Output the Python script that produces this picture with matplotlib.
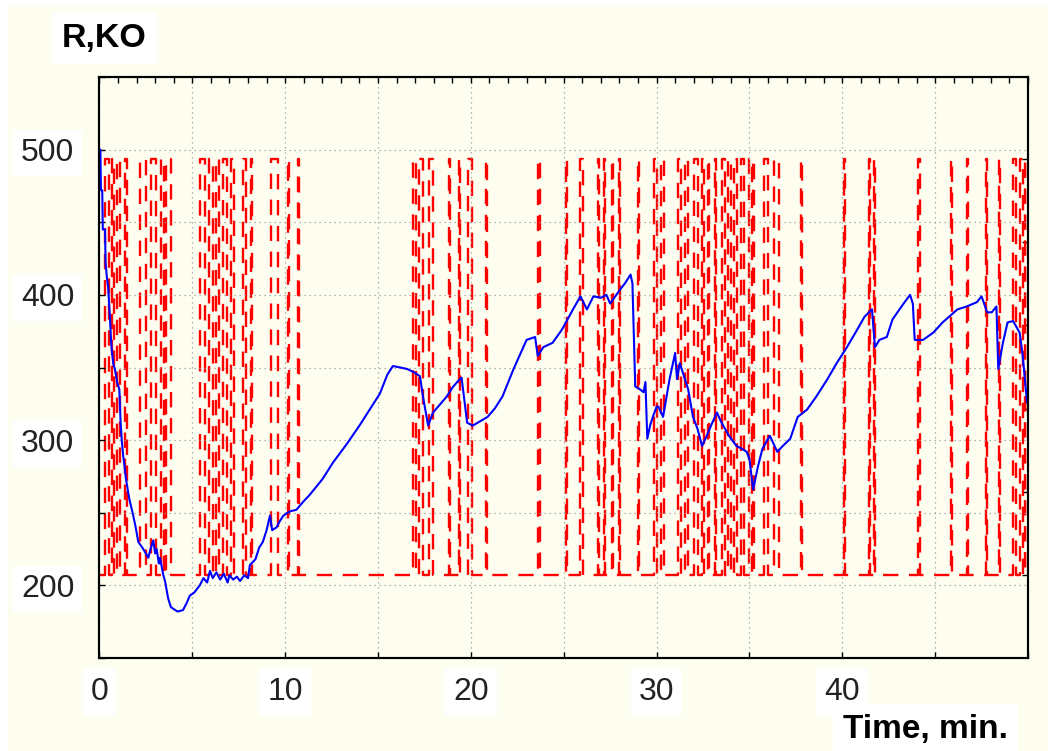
import numpy as np
import matplotlib.pyplot as plt
from matplotlib.patches import Rectangle

plt.rcParams['font.family'] = ['Liberation Sans', 'DejaVu Sans']

# resistance trace, R (kOhm) vs time (min)
t_min = [0.0, 0.05, 0.08, 0.15, 0.18, 0.3, 0.33, 0.4, 0.47, 0.57, 0.62, 0.66, 0.75, 0.83,
         0.95, 1.07, 1.14, 1.2, 1.28, 1.35, 1.43, 1.6, 1.82, 1.95, 2.09, 2.2, 2.36, 2.5,
         2.63, 2.75, 2.9, 3.0, 3.08, 3.2, 3.26, 3.44, 3.53, 3.7, 3.85, 3.97, 4.2, 4.5,
         4.7, 4.87, 5.1, 5.4, 5.6, 5.8, 5.95, 6.1, 6.3, 6.5, 6.7, 6.9, 7.0, 7.2, 7.4,
         7.57, 7.8, 8.0, 8.1, 8.4, 8.6, 8.8, 9.0, 9.18, 9.3, 9.54, 9.7, 9.9, 10.26,
         10.6, 11.0, 11.3, 12.0, 12.6, 13.3, 14.0, 14.6, 15.1, 15.5, 15.8, 16.2, 16.56,
         16.9, 17.26, 17.42, 17.7, 17.96, 18.3, 18.7, 19.0, 19.26, 19.5, 19.8, 20.1,
         20.5, 20.9, 21.3, 21.7, 22.3, 23.0, 23.46, 23.6, 23.9, 24.4, 24.9, 25.5, 25.9,
         26.25, 26.6, 27.0, 27.3, 27.5, 28.0, 28.3, 28.6, 28.7, 28.85, 29.1, 29.3, 29.4,
         29.5, 29.65, 29.8, 30.0, 30.1, 30.35, 30.7, 31.0, 31.1, 31.25, 31.4, 31.7,
         31.96, 32.2, 32.45, 32.7, 33.0, 33.25, 33.5, 33.9, 34.3, 34.6, 34.85, 35.0,
         35.2, 35.46, 35.7, 36.1, 36.5, 36.8, 37.2, 37.6, 38.1, 38.6, 39.2, 39.7, 40.25,
         40.8, 41.2, 41.6, 41.76, 42.0, 42.4, 42.7, 43.3, 43.65, 43.8, 43.9, 44.35,
         44.9, 45.4, 46.2, 46.7, 47.25, 47.5, 47.8, 48.05, 48.3, 48.4, 48.65, 48.9,
         49.2, 49.55, 49.7, 49.95]
r_ko = [500, 500, 472, 472, 445, 445, 422, 412, 405, 383, 370, 362, 352, 349,
        340, 335, 312, 300, 289, 282, 273, 260, 248, 240, 230, 228, 225, 222,
        219, 225, 231, 222, 225, 215, 219, 207, 203, 191, 185, 184, 182, 183,
        188, 193, 195, 200, 205, 202, 210, 205, 209, 204, 208, 202, 207, 204, 206,
        203, 207, 205, 214, 218, 226, 230, 238, 248, 238, 240, 244, 248, 251,
        252, 258, 262, 273, 285, 297, 310, 322, 332, 345, 351, 350, 349,
        347, 344, 330, 310, 319, 324, 330, 336, 340, 343, 312, 310,
        313, 316, 322, 330, 349, 369, 371, 358, 364, 367, 376, 390, 399,
        390, 399, 398, 400, 394, 403, 408, 414, 408, 337, 335, 333, 340,
        301, 310, 316, 323, 323, 316, 342, 360, 342, 353, 347, 335,
        316, 308, 296, 303, 312, 319, 312, 303, 296, 294, 292, 287,
        266, 282, 294, 303, 292, 296, 301, 316, 321, 330, 342, 353, 364,
        376, 385, 390, 364, 369, 371, 383, 394, 400, 394, 369, 369,
        374, 381, 390, 392, 395, 399, 388, 388, 392, 349, 367, 381,
        382, 374, 360, 326]

# valve state pulses (on/off times, min)
pulse_on = [0.32, 0.65, 0.97, 1.35, 2.21, 2.75, 3.29, 3.61, 5.44, 5.88, 6.25, 6.63, 7.06,
            7.71, 8.14, 9.22, 10.13, 10.67, 16.87, 17.2, 17.74, 18.81, 19.35, 19.84,
            20.81, 23.61, 25.12, 25.88, 26.85, 27.17, 27.6, 27.98, 29.0, 29.87, 30.25,
            31.16, 31.54, 32.02, 32.45, 32.78, 33.15, 33.53, 33.85, 34.18, 34.56, 35.0,
            35.2, 35.8, 36.33, 37.79, 40.11, 41.46, 41.73, 44.1, 45.88, 46.74, 47.76,
            48.46, 49.2, 49.55, 49.82]
pulse_off = [0.49, 0.81, 1.13, 1.51, 2.48, 3.02, 3.45, 3.83, 5.66, 6.09, 6.42, 6.85, 7.22,
             7.87, 8.2, 9.6, 10.18, 10.72, 17.03, 17.41, 17.95, 18.86, 19.4, 20.05,
             20.86, 23.72, 25.17, 26.04, 26.9, 27.22, 27.65, 28.03, 29.05, 30.0, 30.4,
             31.32, 31.7, 32.24, 32.56, 32.83, 33.2, 33.69, 34.02, 34.34, 34.72, 35.15,
             35.25, 36.0, 36.6, 37.84, 40.16, 41.51, 41.78, 44.2, 45.93, 46.79, 47.81,
             48.51, 49.38, 49.72, 50.0]

x_labels = ['0', '', '10', '', '20', '', '30', '', '40', '', '']
y_labels = ['', '200', '', '300', '', '400', '', '500', '']

# step signal built from the pulses
step_t = [0.0]
step_v = [0]
for on, off in zip(pulse_on, pulse_off):
    step_t += [on, off]
    step_v += [1, 0]
step_t.append(50.0)
step_v.append(0)

fig = plt.figure(figsize=(10.48, 7.51), dpi=100, facecolor='white')
fig.patches.append(Rectangle((8 / 1048, 0), 1, 1 - 5 / 751, transform=fig.transFigure,
                             facecolor='#FEFEF0', edgecolor='none', zorder=-10))

ax = fig.add_axes([0.0949, 0.1238, 0.8860, 0.7737])
ax2 = ax.twinx()
ax.set_zorder(ax2.get_zorder() + 1)
ax.patch.set_visible(False)
ax2.patch.set_facecolor('white')

ax2.plot(step_t, step_v, drawstyle='steps-post', color='#FF0000', lw=1.7,
         dashes=(6.5, 4.5))
ax2.set_ylim(-0.198, 1.196)
ax2.set_yticks(np.arange(0, 1.01, 0.2))
ax2.set_yticklabels([])
ax2.tick_params(axis='y', direction='in', length=4, width=1)

ax.plot(t_min, r_ko, color='#0000FF', lw=1.5)
ax.set_xlim(0, 50)
ax.set_ylim(150, 550)

ax.set_xticks(np.arange(0, 51, 5))
ax.set_xticklabels(x_labels)
ax.set_xticks(np.arange(0, 51, 1), minor=True)
ax.set_yticks(np.arange(150, 551, 50))
ax.set_yticklabels(y_labels)

ax.tick_params(axis='x', which='major', direction='in', length=4, width=1,
               top=True, labelsize=23, labelcolor='#222222', pad=14)
ax.tick_params(axis='x', which='minor', direction='in', length=4, width=1,
               bottom=False, top=True)
ax.tick_params(axis='y', direction='in', length=4, width=1,
               labelsize=23, labelcolor='#222222', pad=18)

for lbl in ax.get_xticklabels() + ax.get_yticklabels():
    lbl.set_bbox(dict(facecolor='white', edgecolor='none', boxstyle='square,pad=0.25'))

ax.grid(True, color='#9a9a9a', linestyle=(0, (1, 3)), lw=0.9)

for a in (ax, ax2):
    for sp in a.spines.values():
        sp.set_linewidth(1.5)
        sp.set_color('black')

box = dict(facecolor='white', edgecolor='none', boxstyle='square,pad=0.3')
fig.text(0.0995, 0.949, 'R,KO', fontsize=24.5, fontweight='bold', ha='center',
         va='center', bbox=box)
fig.text(0.883, 0.029, 'Time, min.', fontsize=24, fontweight='bold', ha='center',
         va='center', bbox=box)

fig.savefig('out.png', dpi=100, facecolor=fig.get_facecolor())
